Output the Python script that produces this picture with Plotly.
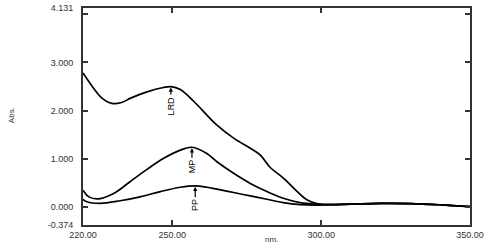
import plotly.graph_objects as go

# Data
nm_lrd = [220, 223.6, 226.4, 229.7, 233, 236, 241.5, 247, 249.5, 252.7, 257.1, 262.2, 265,
          270.6, 276.2, 279.5, 282.9, 287.3, 291.8, 295.2, 298.5, 302, 310, 320, 330, 340, 350]
abs_lrd = [2.78, 2.46, 2.26, 2.15, 2.17, 2.26, 2.39, 2.48, 2.50, 2.44, 2.20, 1.87, 1.70,
           1.43, 1.22, 1.08, 0.82, 0.60, 0.33, 0.15, 0.07, 0.05, 0.06, 0.075, 0.07, 0.045, 0.01]

nm_mp = [220, 222, 225.2, 230.3, 235.9, 241.5, 247.1, 252.7, 256.6, 261.6, 265, 270.6, 276.2,
         281.8, 287.3, 292.9, 298.5, 302, 310, 320, 330, 340, 350]
abs_mp = [0.35, 0.21, 0.17, 0.28, 0.53, 0.78, 1.01, 1.18, 1.24, 1.11, 0.94, 0.70, 0.49,
          0.32, 0.18, 0.09, 0.056, 0.05, 0.06, 0.075, 0.07, 0.045, 0.01]

nm_pp = [220, 221.3, 225.8, 232.5, 239.2, 246, 252.7, 257.7, 261.6, 265, 270.6, 276.2, 281.8,
         287.3, 292.9, 298.5, 302, 310, 320, 330, 340, 350]
abs_pp = [0.16, 0.11, 0.077, 0.13, 0.21, 0.32, 0.41, 0.44, 0.41, 0.37, 0.30, 0.23, 0.16,
          0.09, 0.05, 0.04, 0.05, 0.06, 0.075, 0.07, 0.045, 0.01]

series = [("LRD", nm_lrd, abs_lrd), ("MP", nm_mp, abs_mp), ("PP", nm_pp, abs_pp)]

x_ticks = [220, 250, 300, 350]
x_tick_text = ["220.00", "250.00", "300.00", "350.00"]
y_ticks = [-0.374, 0, 1, 2, 3, 4, 4.131]
y_tick_text = ["-0.374", "0.000", "1.000", "2.000", "3.000", "", "4.131"]

FONT = "Liberation Sans, Arial, sans-serif"

fig = go.Figure()
annotations = []
for name, xs, ys in series:
    fig.add_trace(go.Scatter(x=xs, y=ys, mode="lines", name=name,
                             line=dict(color="black", width=1.7, shape="spline", smoothing=1.0)))
    # peak of the main band (240-270 nm)
    cand = [(y, x) for x, y in zip(xs, ys) if 240 <= x <= 270]
    py, px = max(cand)
    annotations.append(dict(x=px, y=py, xref="x", yref="y", text=name, textangle=-90,
                            showarrow=True, ax=0, ay=19, arrowhead=2, arrowsize=0.7,
                            arrowwidth=1.2, arrowcolor="black", standoff=1,
                            font=dict(family=FONT, size=9, color="black")))

annotations.append(dict(x=-0.183, y=0.507, xref="paper", yref="paper", text="Abs.",
                        textangle=-90, showarrow=False, xanchor="center", yanchor="middle",
                        font=dict(family=FONT, size=8, color="#333")))
annotations.append(dict(x=0.488, y=-0.069, xref="paper", yref="paper", text="nm.",
                        showarrow=False, xanchor="center", yanchor="middle",
                        font=dict(family=FONT, size=8, color="#333")))

axis_common = dict(showgrid=False, zeroline=False, showline=True, linecolor="#333",
                   linewidth=2, ticks="inside", ticklen=5, tickwidth=1.5, tickcolor="#333",
                   mirror="ticks", automargin=False,
                   tickfont=dict(family=FONT, size=9, color="#333"))

fig.update_layout(
    width=500, height=246,
    margin=dict(l=83, r=30, t=8, b=21, autoexpand=False),
    paper_bgcolor="white", plot_bgcolor="white",
    showlegend=False,
    xaxis=dict(range=[220, 350], tickvals=x_ticks, ticktext=x_tick_text,
               ticklabelstandoff=0, **axis_common),
    yaxis=dict(range=[-0.374, 4.131], tickvals=y_ticks, ticktext=y_tick_text,
               ticklabelstandoff=6, **axis_common),
    annotations=annotations,
)

fig.write_html("out.html", config={"displayModeBar": False},
               post_script="document.body.style.margin='0';document.body.style.padding='0';")
